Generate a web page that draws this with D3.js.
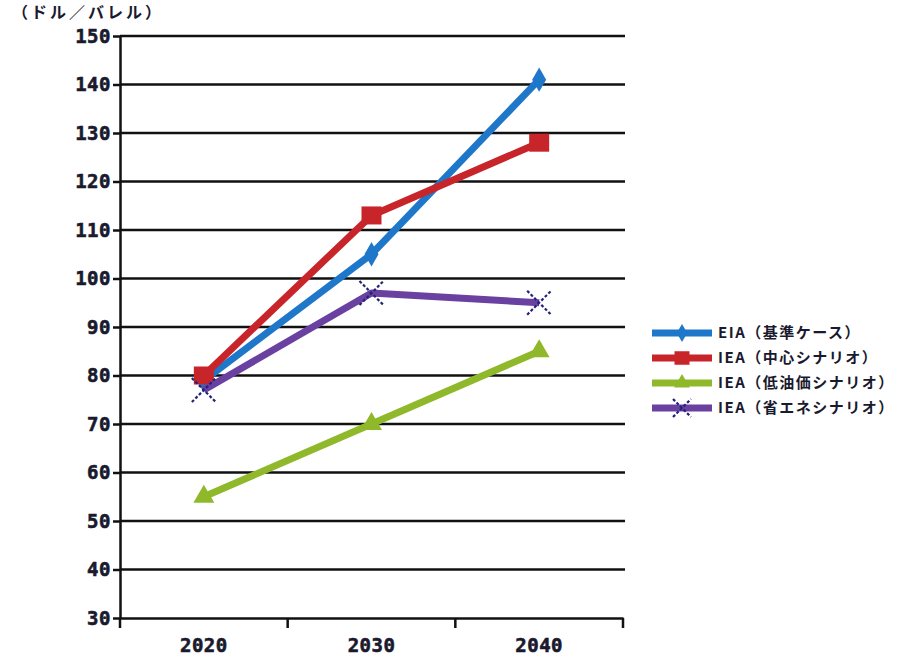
<!DOCTYPE html>
<html>
<head>
<meta charset="utf-8">
<script src="https://cdn.jsdelivr.net/npm/d3@7"></script>
<style>
  html, body { margin: 0; padding: 0; background: #fff; }
  svg { display: block; }
</style>
</head>
<body>
<svg id="chart" width="921" height="659"></svg>
<script>
// Crude oil price outlook by scenario (USD per barrel)
const years = ["2020", "2030", "2040"];
const yTicks = [30, 40, 50, 60, 70, 80, 90, 100, 110, 120, 130, 140, 150];

const eiaReference = [79, 105, 141];
const ieaCentral = [80, 113, 128];
const ieaLowOil = [55, 70, 85];
const ieaEfficiency = [77, 97, 95];

const seriesNames = [
  "EIA（基準ケース）",
  "IEA（中心シナリオ）",
  "IEA（低油価シナリオ）",
  "IEA（省エネシナリオ）"
];
const unitLabel = "（ドル／バレル）";

const series = [
  { name: seriesNames[0], values: eiaReference, color: "#1f77c9", marker: "diamond" },
  { name: seriesNames[1], values: ieaCentral, color: "#c8252b", marker: "square" },
  { name: seriesNames[2], values: ieaLowOil, color: "#8fb82a", marker: "triangle" },
  { name: seriesNames[3], values: ieaEfficiency, color: "#6a40a0", marker: "cross" }
];

const svg = d3.select("#chart");
const plotLeft = 120, plotRight = 623, plotTop = 36, plotBottom = 618;

const x = d3.scaleBand().domain(years).range([plotLeft, plotRight]);
const y = d3.scaleLinear().domain([30, 150]).range([plotBottom, plotTop]);

const numFont = "'DejaVu Sans Mono', monospace";
const jpFont = "'Noto Sans CJK JP', sans-serif";
const textColor = "#1a1a2e";

// horizontal grid lines
svg.append("g")
  .selectAll("line")
  .data(yTicks.filter(d => d > 30))
  .join("line")
  .attr("x1", plotLeft).attr("x2", plotRight + 2)
  .attr("y1", d => y(d)).attr("y2", d => y(d))
  .attr("stroke", "#111").attr("stroke-width", 2.5);

// y axis
const yAxis = svg.append("g")
  .attr("transform", `translate(${plotLeft},0)`)
  .call(d3.axisLeft(y).tickValues(yTicks).tickSize(7).tickSizeOuter(0));
yAxis.select(".domain").attr("stroke", "#111").attr("stroke-width", 2.5);
yAxis.selectAll(".tick line").attr("stroke", "#111").attr("stroke-width", 2.5);
yAxis.selectAll(".tick text")
  .attr("font-family", numFont).attr("font-weight", "bold")
  .attr("font-size", 19).attr("fill", textColor)
  .attr("stroke", textColor).attr("stroke-width", 0.6)
  .attr("x", -9).attr("letter-spacing", 0.5);

// x axis
const xAxis = svg.append("g")
  .attr("transform", `translate(0,${plotBottom})`)
  .call(d3.axisBottom(x).tickSize(0).tickSizeOuter(0));
xAxis.select(".domain").attr("stroke", "#111").attr("stroke-width", 2.5);
xAxis.selectAll(".tick text")
  .attr("font-family", numFont).attr("font-weight", "bold")
  .attr("font-size", 19).attr("fill", textColor)
  .attr("stroke", textColor).attr("stroke-width", 0.6)
  .attr("y", 21).attr("letter-spacing", 0.5);

// x tick marks at band boundaries
const boundaries = years.map(d => x(d)).concat([x(years[years.length - 1]) + x.bandwidth()]);
svg.append("g")
  .selectAll("line")
  .data(boundaries)
  .join("line")
  .attr("x1", d => d).attr("x2", d => d)
  .attr("y1", plotBottom).attr("y2", plotBottom + 10)
  .attr("stroke", "#111").attr("stroke-width", 2.5);

// unit label
svg.append("text")
  .attr("x", 12).attr("y", 18)
  .attr("font-family", jpFont).attr("font-weight", "bold")
  .attr("font-size", 16).attr("fill", textColor)
  .attr("letter-spacing", 3)
  .text(unitLabel);

const cx = (d, i) => x(years[i]) + x.bandwidth() / 2;

function drawMarker(g, type, color, px, py, scale) {
  const s = scale || 1;
  if (type === "diamond") {
    g.append("path")
      .attr("d", d3.symbol(d3.symbolDiamond, 170 * s * s)())
      .attr("transform", `translate(${px},${py})`)
      .attr("fill", color);
  } else if (type === "square") {
    g.append("rect")
      .attr("x", px - 10 * s).attr("y", py - 9 * s)
      .attr("width", 20 * s).attr("height", 18 * s)
      .attr("fill", color);
  } else if (type === "triangle") {
    g.append("path")
      .attr("d", d3.symbol(d3.symbolTriangle, 190 * s * s)())
      .attr("transform", `translate(${px},${py})`)
      .attr("fill", color);
  } else if (type === "cross") {
    const r = 12 * s;
    g.append("path")
      .attr("d", `M${px - r},${py - r}L${px + r},${py + r}M${px - r},${py + r}L${px + r},${py - r}`)
      .attr("stroke", "#23237a").attr("stroke-width", 2.2)
      .attr("stroke-dasharray", "3,2").attr("fill", "none");
  }
}

const line = d3.line().x(cx).y(d => y(d));

const plot = svg.append("g");
series.forEach(s => {
  const g = plot.append("g");
  g.append("path")
    .datum(s.values)
    .attr("d", line)
    .attr("fill", "none")
    .attr("stroke", s.color)
    .attr("stroke-width", 7)
    .attr("stroke-linejoin", "round");
  s.values.forEach((v, i) => drawMarker(g, s.marker, s.color, cx(v, i), y(v)));
});

// legend
const legend = svg.append("g").attr("transform", "translate(652,333)");
series.forEach((s, i) => {
  const g = legend.append("g").attr("transform", `translate(0,${i * 25})`);
  g.append("line")
    .attr("x1", 0).attr("x2", 60).attr("y1", 0).attr("y2", 0)
    .attr("stroke", s.color).attr("stroke-width", 7);
  drawMarker(g, s.marker, s.color, 30, 0, 0.75);
  g.append("text")
    .attr("x", 66).attr("y", 0).attr("dy", "0.36em")
    .attr("font-family", jpFont).attr("font-weight", "bold")
    .attr("font-size", 15).attr("fill", textColor)
    .attr("letter-spacing", 1.5)
    .text(s.name);
});
</script>
</body>
</html>
